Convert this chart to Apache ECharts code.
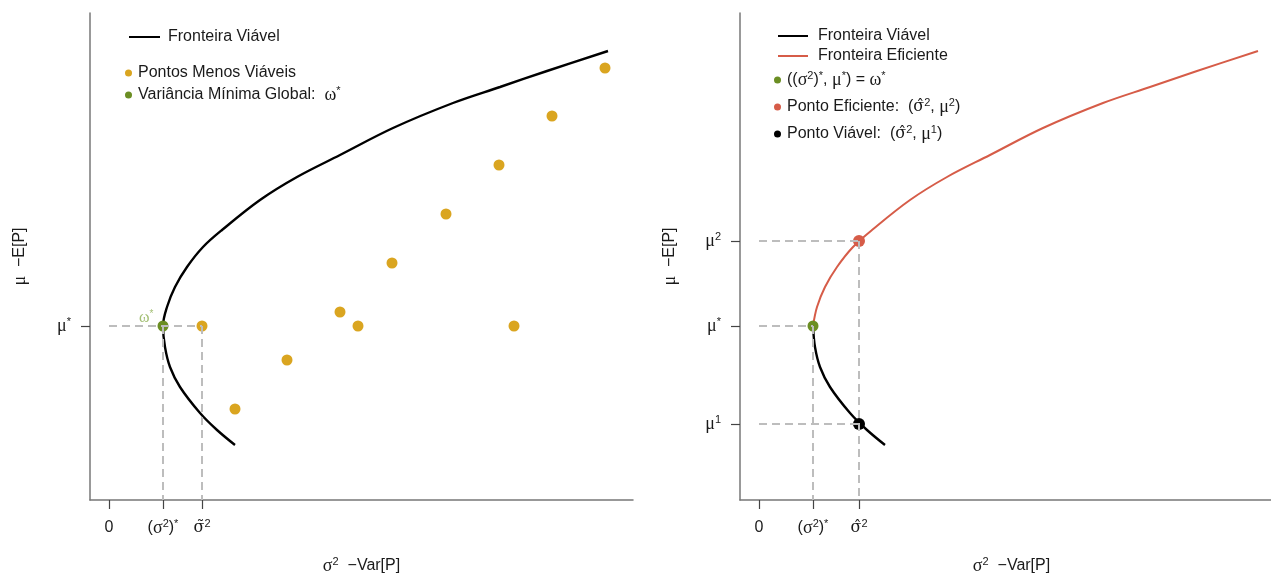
<!DOCTYPE html>
<html>
<head>
<meta charset="utf-8">
<script src="https://cdn.jsdelivr.net/npm/echarts@6/dist/echarts.min.js"></script>
<style>
html, body { margin: 0; padding: 0; background: #fff; }
#main { width: 1271px; height: 574px; }
</style>
</head>
<body>
<div id="main"></div>
<script>
// fronteira viavel (variancia x retorno), de baixo para cima
var fronteiraX = [12.6, 10.8, 9.1, 7.1, 6.1, 5.6, 5.4, 5.8, 6.6, 7.8, 9.4, 11.3, 15.1, 18.8, 23.1, 28.4, 34.4, 39.1, 43.8, 49.9];
var fronteiraY = [5.5, 7.0, 8.7, 11.3, 13.3, 15.3, 17.4, 19.3, 21.3, 23.3, 25.3, 27.0, 30.0, 32.3, 34.5, 37.2, 39.7, 41.3, 42.9, 44.9];
var idxMin = 6; // ponto de variancia minima dentro da fronteira

// pontos menos viaveis
var pontosX = [9.3, 12.6, 17.8, 23.1, 24.9, 28.3, 33.7, 39.0, 40.5, 44.3, 49.6];
var pontosY = [17.4, 9.1, 14.0, 18.8, 17.4, 23.7, 28.6, 33.5, 17.4, 38.4, 43.2];

// valores marcados nos eixos
var varMin = 5.4, muMin = 17.4;   // omega*
var varTil = 9.3;                 // sigma til
var varHat = 10.0, mu2 = 25.9, mu1 = 7.6;

var ticksXEsq = [0, varMin, varTil];
var labelsXEsq = ['0', '({g|σ}{s|2}){s|*}', '{h|σ̃}{s|2}'];
var ticksYEsq = [muMin];
var labelsYEsq = ['{g|μ}{s|*}'];
var ticksXDir = [0, varMin, varHat];
var labelsXDir = ['0', '({g|σ}{s|2}){s|*}', '{h|σ̂}{s|2}'];
var ticksYDir = [mu1, muMin, mu2];
var labelsYDir = ['{g|μ}{s|1}', '{g|μ}{s|*}', '{g|μ}{s|2}'];

var sans = 'Liberation Sans, Arial, sans-serif';
var serif = 'Liberation Serif, Times New Roman, serif';
var corTexto = '#1a1a1a';

var rich = {
    g: { fontFamily: serif, fontSize: 18, lineHeight: 20, color: corTexto },
    h: { fontFamily: 'DejaVu Serif', fontSize: 16, lineHeight: 20, color: corTexto },
    s: { fontFamily: sans, fontSize: 11, lineHeight: 8, verticalAlign: 'top', color: corTexto }
};

function pares(xs, ys, ini, fim) {
    var out = [];
    for (var i = ini; i < fim; i++) out.push([xs[i], ys[i]]);
    return out;
}

function rotulo(vals, labs) {
    return function (v) {
        var best = 0;
        for (var i = 1; i < vals.length; i++) {
            if (Math.abs(vals[i] - v) < Math.abs(vals[best] - v)) best = i;
        }
        return labs[best];
    };
}

function eixoX(g, vals, labs) {
    return {
        type: 'value', gridIndex: g, min: -1.9, max: 52.4,
        axisLine: { show: true, onZero: false, lineStyle: { color: '#777', width: 1.5 } },
        axisTick: { show: true, customValues: vals, length: 9, lineStyle: { color: '#444', width: 1.2 } },
        axisLabel: {
            customValues: vals, margin: 18, formatter: rotulo(vals, labs),
            fontFamily: sans, fontSize: 16, lineHeight: 20, color: corTexto, rich: rich
        },
        splitLine: { show: false },
        name: '{g|σ}{s|2}  −Var[P]', nameLocation: 'middle', nameGap: 56,
        nameTextStyle: { fontFamily: sans, fontSize: 16, lineHeight: 20, color: corTexto, rich: rich }
    };
}

function eixoY(g, vals, labs) {
    return {
        type: 'value', gridIndex: g, min: 0, max: 48.7,
        axisLine: { show: true, onZero: false, lineStyle: { color: '#777', width: 1.5 } },
        axisTick: { show: true, customValues: vals, length: 9, lineStyle: { color: '#444', width: 1.2 } },
        axisLabel: {
            customValues: vals, margin: 19, formatter: rotulo(vals, labs),
            fontFamily: sans, fontSize: 16, lineHeight: 20, color: corTexto, rich: rich
        },
        splitLine: { show: false },
        name: '{g|μ}  −E[P]', nameLocation: 'middle', nameGap: 60,
        nameTextStyle: { fontFamily: sans, fontSize: 16, lineHeight: 20, color: corTexto, rich: rich }
    };
}

function tracejado(g, pts) {
    return {
        type: 'line', xAxisIndex: g, yAxisIndex: g, data: pts, silent: true,
        showSymbol: false, symbol: 'none', z: 5,
        lineStyle: { color: '#bdbdbd', width: 2, type: [8, 5] }
    };
}

var nomes = {
    fv: 'Fronteira Viável',
    fe: 'Fronteira Eficiente',
    pmv: 'Pontos Menos Viáveis',
    vmg: 'Variância Mínima Global:  {g|ω}{s|*}',
    omega: '(({g|σ}{s|2}){s|*}, {g|μ}{s|*}) = {g|ω}{s|*}',
    pe: 'Ponto Eficiente:  ({h|σ̂}{s|2}, {g|μ}{s|2})',
    pv: 'Ponto Viável:  ({h|σ̂}{s|2}, {g|μ}{s|1})'
};

function legenda(left, top, itens, icone, w, h, gap, pad) {
    return {
        left: left, top: top, orient: 'vertical', selectedMode: false,
        itemWidth: w, itemHeight: h, itemGap: gap,
        data: itens.map(function (n) { return { name: n, icon: icone }; }),
        formatter: function (n) { return nomes[n]; },
        textStyle: { fontFamily: sans, fontSize: 16, lineHeight: 20, color: corTexto, padding: [0, 0, 0, pad], rich: rich }
    };
}

var verde = '#6b8e23', ouro = '#daa520', vermelho = '#d65c48';
var cheio = { opacity: 1 };

var chart = echarts.init(document.getElementById('main'));
var option = {
    animation: false,
    backgroundColor: '#fff',
    grid: [
        { left: 90, top: 13, width: 543, height: 487, outerBoundsMode: 'none' },
        { left: 740, top: 13, width: 543, height: 487, outerBoundsMode: 'none' }
    ],
    xAxis: [eixoX(0, ticksXEsq, labelsXEsq), eixoX(1, ticksXDir, labelsXDir)],
    yAxis: [eixoY(0, ticksYEsq, labelsYEsq), eixoY(1, ticksYDir, labelsYDir)],
    legend: [
        legenda(124, 22, ['fv'], 'rect', 31, 2, 2, 3),
        legenda(120, 58, ['pmv', 'vmg'], 'circle', 7, 7, 2, 1),
        legenda(773, 21, ['fv', 'fe'], 'rect', 30, 2, 0, 5),
        legenda(769, 65, ['omega', 'pe', 'pv'], 'circle', 7, 7, 7, 1)
    ],
    series: [
        // painel esquerdo
        {
            name: 'fv', type: 'line', xAxisIndex: 0, yAxisIndex: 0,
            data: pares(fronteiraX, fronteiraY, 0, fronteiraX.length),
            smooth: 0.35, showSymbol: false, symbol: 'none', color: '#000', z: 3,
            lineStyle: { color: '#000', width: 2.4 }
        },
        {
            name: 'pmv', type: 'scatter', xAxisIndex: 0, yAxisIndex: 0,
            data: pares(pontosX, pontosY, 0, pontosX.length),
            symbolSize: 11, color: ouro, itemStyle: cheio, z: 4
        },
        {
            name: 'vmg', type: 'scatter', xAxisIndex: 0, yAxisIndex: 0,
            data: [[varMin, muMin]], symbolSize: 11, color: verde, itemStyle: cheio, z: 4,
            label: {
                show: true, position: 'left', distance: 4, offset: [0, -8],
                formatter: '{w|ω}{ws|*}',
                rich: {
                    w: { fontFamily: serif, fontSize: 16, lineHeight: 18, color: '#a3bf74' },
                    ws: { fontSize: 10, lineHeight: 9, verticalAlign: 'top', color: '#a3bf74' }
                }
            }
        },
        tracejado(0, [[0, muMin], [varTil, muMin]]),
        tracejado(0, [[varMin, muMin], [varMin, 0]]),
        tracejado(0, [[varTil, muMin], [varTil, 0]]),

        // painel direito
        {
            name: 'fv', type: 'line', xAxisIndex: 1, yAxisIndex: 1,
            data: pares(fronteiraX, fronteiraY, 0, idxMin + 1),
            smooth: 0.35, showSymbol: false, symbol: 'none', color: '#000', z: 3,
            lineStyle: { color: '#000', width: 2.4 }
        },
        {
            name: 'fe', type: 'line', xAxisIndex: 1, yAxisIndex: 1,
            data: pares(fronteiraX, fronteiraY, idxMin, fronteiraX.length),
            smooth: 0.35, showSymbol: false, symbol: 'none', color: vermelho, z: 3,
            lineStyle: { color: vermelho, width: 2 }
        },
        tracejado(1, [[0, mu2], [varHat, mu2]]),
        tracejado(1, [[0, muMin], [varMin, muMin]]),
        tracejado(1, [[0, mu1], [varHat, mu1]]),
        tracejado(1, [[varMin, muMin], [varMin, 0]]),
        tracejado(1, [[varHat, mu2], [varHat, 0]]),
        {
            name: 'omega', type: 'scatter', xAxisIndex: 1, yAxisIndex: 1,
            data: [[varMin, muMin]], symbolSize: 11, color: verde, itemStyle: cheio, z: 4
        },
        {
            name: 'pe', type: 'scatter', xAxisIndex: 1, yAxisIndex: 1,
            data: [[varHat, mu2]], symbolSize: 12, color: vermelho, itemStyle: cheio, z: 4
        },
        {
            name: 'pv', type: 'scatter', xAxisIndex: 1, yAxisIndex: 1,
            data: [[varHat, mu1]], symbolSize: 12, color: '#000', itemStyle: cheio, z: 4
        }
    ]
};
chart.setOption(option);
</script>
</body>
</html>
